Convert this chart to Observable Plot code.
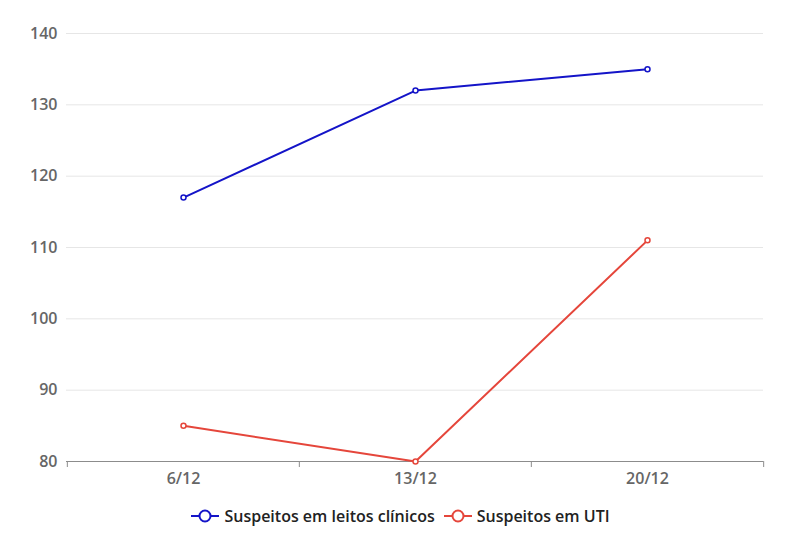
<!DOCTYPE html>
<html>
<head>
<meta charset="utf-8">
<script src="https://cdn.jsdelivr.net/npm/d3@7"></script>
<script src="https://cdn.jsdelivr.net/npm/@observablehq/plot@0.6"></script>
<style>
  body { margin: 0; background: #fff; font-family: "Open Sans", sans-serif; }
  #chart { width: 800px; }
  .legend { display: flex; justify-content: center; align-items: center; gap: 8px; margin-top: 5px; font-size: 16px; font-weight: 600; color: #222; line-height: 22px; }
  .legend span { display: inline-flex; align-items: center; gap: 4px; }
</style>
</head>
<body>
<div id="chart"></div>
<script>
const categories = ["6/12", "13/12", "20/12"];
const seriesNames = ["Suspeitos em leitos clínicos", "Suspeitos em UTI"];
const leitos = [117, 132, 135];
const uti = [85, 80, 111];
const yTicks = [80, 90, 100, 110, 120, 130, 140];
const colors = ["#1414c8", "#e5463b"];

const data = [
  ...categories.map((c, i) => ({date: c, value: leitos[i], series: seriesNames[0]})),
  ...categories.map((c, i) => ({date: c, value: uti[i], series: seriesNames[1]}))
];

const W = 800, H = 500, mL = 66, mR = 37, mT = 33, mB = 39;
const bw = (W - mL - mR) / categories.length;
const boundaries = [
  ...categories.map(c => ({date: c, dx: -bw / 2})),
  {date: categories[categories.length - 1], dx: bw / 2}
];

const plot = Plot.plot({
  width: W, height: H,
  marginLeft: mL, marginRight: mR, marginTop: mT, marginBottom: mB,
  style: {fontFamily: "Open Sans", fontSize: "16px", fontWeight: 600, color: "#666", background: "#fff"},
  x: {type: "band", domain: categories, padding: 0, label: null, axis: null},
  y: {domain: [80, 140], label: null, axis: null},
  color: {domain: seriesNames, range: colors},
  marks: [
    Plot.ruleY(yTicks.filter(t => t > 80), {stroke: "#e6e6e6", strokeWidth: 1}),
    Plot.axisY(yTicks, {tickSize: 0, tickPadding: 9, fill: "#666", fontSize: 16, fontWeight: 600, label: null}),
    Plot.axisX(categories, {tickSize: 0, tickPadding: 11, fill: "#666", fontSize: 16, fontWeight: 600, label: null}),
    ...boundaries.map(b => Plot.ruleX([b], {x: "date", y1: 80, y2: 80, insetBottom: -6, dx: b.dx, stroke: "#8c8c8c", strokeWidth: 1})),
    Plot.ruleY([80], {stroke: "#8c8c8c", strokeWidth: 1}),
    Plot.line(data, {x: "date", y: "value", z: "series", stroke: "series", strokeWidth: 2}),
    Plot.dot(data, {x: "date", y: "value", stroke: "series", fill: "#fff", r: 2.5, strokeWidth: 1.5})
  ]
});
document.getElementById("chart").appendChild(plot);

const legend = document.createElement("div");
legend.className = "legend";
seriesNames.forEach((name, i) => {
  const s = document.createElement("span");
  s.innerHTML = `<svg width="30" height="16"><line x1="1" y1="8" x2="29" y2="8" stroke="${colors[i]}" stroke-width="2"/><circle cx="15" cy="8" r="5.5" fill="#fff" stroke="${colors[i]}" stroke-width="2"/></svg>${name}`;
  legend.appendChild(s);
});
document.getElementById("chart").appendChild(legend);
</script>
</body>
</html>
